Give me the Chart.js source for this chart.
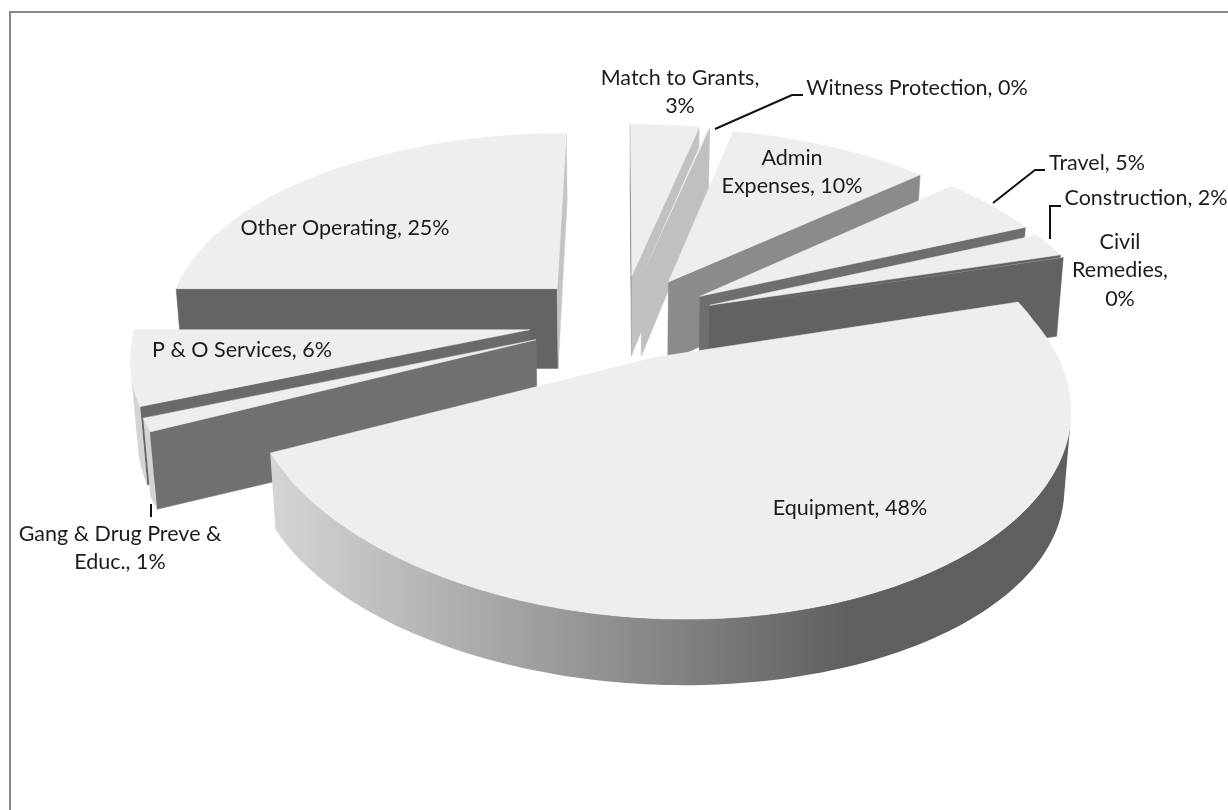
<!DOCTYPE html>
<html>
<head>
<meta charset="utf-8">
<title>Expenditure by category</title>
<script src="https://cdn.jsdelivr.net/npm/chart.js@4"></script>
<style>
    html, body { margin: 0; padding: 0; background: #fff; overflow: hidden; }
    #frame { position: absolute; left: 9px; top: 11px; width: 1400px; height: 1000px; border: 2px solid #8a8a8a; }
    #chartBox { position: absolute; left: 0; top: 0; width: 1228px; height: 810px; }
</style>
</head>
<body>
<div id="frame"></div>
<div id="chartBox"><canvas id="myChart" width="1228" height="810"></canvas></div>
<script>
// slices, clockwise from the top of the pie
var categories = ['Match to Grants', 'Witness Protection', 'Admin Expenses', 'Travel', 'Construction',
    'Civil Remedies', 'Equipment', 'Gang & Drug Preve & Educ.', 'P & O Services', 'Other Operating'];
var shares = [3.4, 0.1, 10, 5, 2, 0.01, 47.64, 1, 5.85, 25];

// label text is centred on these; breaks = word counts of each line but the last
var labelSpots = [
    { x: 680, y: 78, breaks: [3] },
    { x: 917, y: 88, breaks: [] },
    { x: 792, y: 158, breaks: [1] },
    { x: 1097, y: 163, breaks: [] },
    { x: 1146, y: 198, breaks: [] },
    { x: 1120, y: 242, breaks: [1, 1] },
    { x: 850, y: 508, breaks: [] },
    { x: 120, y: 534, breaks: [5] },
    { x: 242, y: 350, breaks: [] },
    { x: 345, y: 228, breaks: [] }
];
var leaderLines = [
    [[715, 129], [792, 95], [803, 95]],
    [[993, 203], [1035, 170], [1045, 170]],
    [[1050, 239], [1050, 206], [1061, 206]],
    [[151, 504], [151, 517]]
];

var RX = 392, RY = 196, PERSPECTIVE = 0.19, PERSPECTIVE_X = 0.17, FRONT_SHEAR = 26;
var TOP_COLOR = '#eeeeee';
// grey of a cut face by the direction it looks towards (degrees)
var cutShades = [[100, 196], [138, 140], [156, 111], [165, 96], [180, 100]];

function wallHeight(v) {
    return 80 - 10 * v * v;
}

function project(arc, u, v, lowered) {
    var x = arc.x + RX * u / (1 - PERSPECTIVE_X * v) + FRONT_SHEAR * Math.max(v, 0);
    var y = arc.y + RY * v / (1 - PERSPECTIVE * v);
    if (lowered) {
        x = arc.x + (x - arc.x) * 0.985;
        y += wallHeight(v);
    }
    return [x, y];
}

function cutShade(deg) {
    deg = ((deg % 360) + 360) % 360;
    if (deg <= cutShades[0][0]) return cutShades[0][1];
    for (var i = 1; i < cutShades.length; i++) {
        if (deg <= cutShades[i][0]) {
            var a = cutShades[i - 1], b = cutShades[i];
            return Math.round(a[1] + (b[1] - a[1]) * (deg - a[0]) / (b[0] - a[0]));
        }
    }
    return cutShades[cutShades.length - 1][1];
}

function fillPoly(ctx, pts, color, edge) {
    ctx.beginPath();
    ctx.moveTo(pts[0][0], pts[0][1]);
    for (var i = 1; i < pts.length; i++) ctx.lineTo(pts[i][0], pts[i][1]);
    ctx.closePath();
    ctx.fillStyle = color;
    ctx.fill();
    if (edge) {
        ctx.strokeStyle = color;
        ctx.lineWidth = 0.5;
        ctx.stroke();
    }
}

function facesViewer(arc, p, q) {
    var t1 = project(arc, p[0], p[1]), t2 = project(arc, q[0], q[1]);
    var b1 = project(arc, p[0], p[1], true), b2 = project(arc, q[0], q[1], true);
    var area = (t1[0] * t2[1] - t2[0] * t1[1]) + (t2[0] * b2[1] - b2[0] * t2[1]) +
        (b2[0] * b1[1] - b1[0] * b2[1]) + (b1[0] * t1[1] - t1[0] * b1[1]);
    return area < 0;
}

function drawCut(ctx, arc, p, q, grey) {
    if (!facesViewer(arc, p, q)) return;
    fillPoly(ctx, [project(arc, p[0], p[1]), project(arc, q[0], q[1]),
        project(arc, q[0], q[1], true), project(arc, p[0], p[1], true)],
        'rgb(' + grey + ',' + grey + ',' + grey + ')', true);
}

function drawRim(ctx, arc, rim, fill) {
    // one polygon for the visible stretch, no seams in the gradient
    var upper = [], lower = [];
    for (var j = 0; j < rim.length - 1; j++) {
        if (facesViewer(arc, rim[j], rim[j + 1])) {
            if (!upper.length) {
                upper.push(project(arc, rim[j][0], rim[j][1]));
                lower.push(project(arc, rim[j][0], rim[j][1], true));
            }
            upper.push(project(arc, rim[j + 1][0], rim[j + 1][1]));
            lower.push(project(arc, rim[j + 1][0], rim[j + 1][1], true));
        }
    }
    if (upper.length) fillPoly(ctx, upper.concat(lower.reverse()), fill, false);
}

function drawSlice(ctx, arc, rimFill) {
    var span = arc.endAngle - arc.startAngle;
    var mid = (arc.startAngle + arc.endAngle) / 2;
    var d = arc.options.offset / arc.outerRadius;
    var u0 = d * Math.cos(mid), v0 = d * Math.sin(mid);
    var rim = [];
    var steps = Math.max(2, Math.ceil(span / 0.02));
    for (var i = 0; i <= steps; i++) {
        var a = arc.startAngle + span * i / steps;
        rim.push([u0 + Math.cos(a), v0 + Math.sin(a)]);
    }
    var apex = [u0, v0];

    drawCut(ctx, arc, apex, rim[0], cutShade(arc.startAngle * 180 / Math.PI));
    drawRim(ctx, arc, rim, rimFill);
    drawCut(ctx, arc, rim[steps], apex, cutShade(arc.endAngle * 180 / Math.PI + 180));

    var top = [project(arc, apex[0], apex[1])];
    rim.forEach(function (pt) { top.push(project(arc, pt[0], pt[1])); });
    // hairline slices stay hairline
    fillPoly(ctx, top, TOP_COLOR, span > 0.01);
}

// tilts the library's arcs into the 3D look, back slices first
var pie3d = {
    id: 'pie3d',
    beforeDatasetsDraw: function (chart) {
        var ctx = chart.ctx;
        var arcs = chart.getDatasetMeta(0).data.slice();
        arcs.sort(function (a, b) {
            var ma = (a.startAngle + a.endAngle) / 2, mb = (b.startAngle + b.endAngle) / 2;
            return a.options.offset * Math.sin(ma) - b.options.offset * Math.sin(mb);
        });
        var grad = ctx.createLinearGradient(275, 0, 850, 0);
        grad.addColorStop(0, '#d4d4d4');
        grad.addColorStop(1, '#5f5f5f');
        ctx.save();
        arcs.forEach(function (arc) { drawSlice(ctx, arc, grad); });
        ctx.restore();
        return false;
    },
    afterDraw: function (chart) {
        var ctx = chart.ctx;
        ctx.save();
        ctx.strokeStyle = '#111';
        ctx.lineWidth = 2;
        leaderLines.forEach(function (line) {
            ctx.beginPath();
            ctx.moveTo(line[0][0], line[0][1]);
            for (var i = 1; i < line.length; i++) ctx.lineTo(line[i][0], line[i][1]);
            ctx.stroke();
        });
        ctx.fillStyle = '#1c1c1c';
        ctx.font = '21.5px Lato';
        ctx.textAlign = 'center';
        ctx.textBaseline = 'middle';
        var total = shares.reduce(function (a, b) { return a + b; }, 0);
        categories.forEach(function (name, i) {
            var words = (name + ', ' + Math.round(shares[i] / total * 100) + '%').split(' ');
            var spot = labelSpots[i], lines = [], from = 0;
            spot.breaks.forEach(function (n) {
                lines.push(words.slice(from, from + n).join(' '));
                from += n;
            });
            lines.push(words.slice(from).join(' '));
            lines.forEach(function (l, k) { ctx.fillText(l, spot.x, spot.y + k * 28.5); });
        });
        ctx.restore();
    }
};

var ctx1 = document.getElementById('myChart').getContext('2d');
var myChart = new Chart(ctx1, {
    type: 'pie',
    data: {
        labels: categories,
        datasets: [{
            data: shares,
            backgroundColor: TOP_COLOR,
            borderWidth: 0,
            offset: function (c) { return c.dataIndex === 6 ? 55 : 69; }
        }]
    },
    options: {
        responsive: false,
        animation: false,
        layout: { padding: { left: 16, bottom: 168 } },
        plugins: { legend: { display: false }, tooltip: { enabled: false } }
    },
    plugins: [pie3d]
});
</script>
</body>
</html>
